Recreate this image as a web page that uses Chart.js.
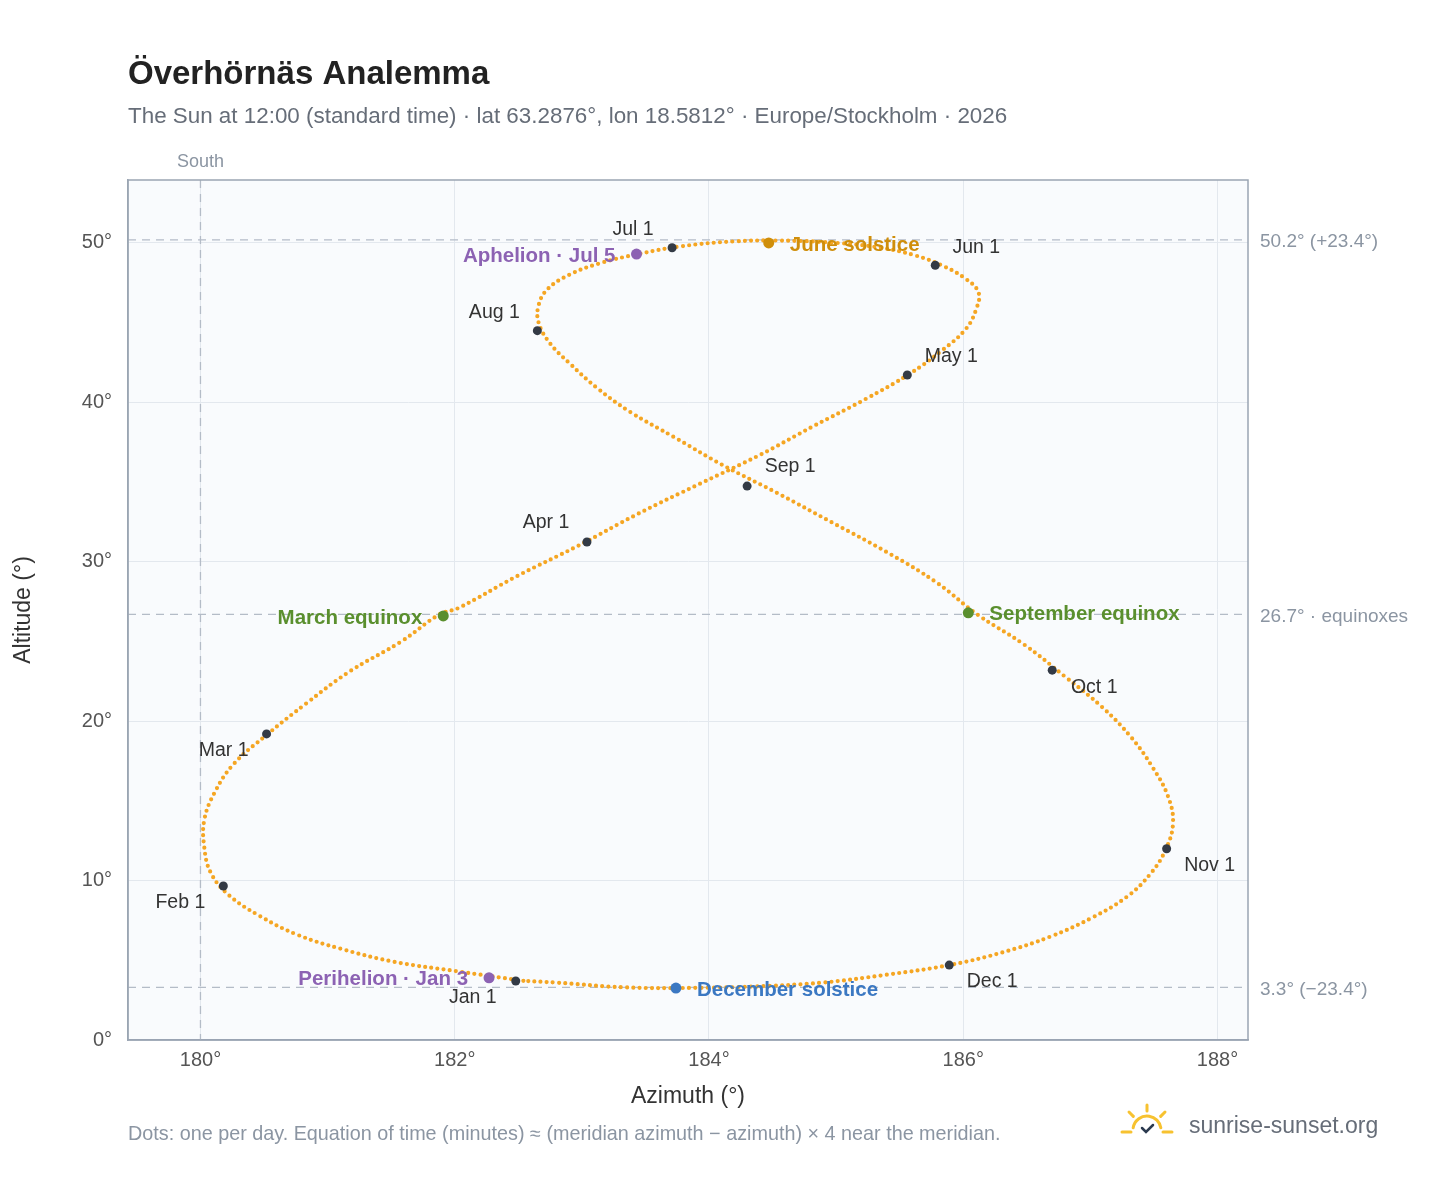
<!DOCTYPE html>
<html><head><meta charset="utf-8">
<script src="https://cdn.jsdelivr.net/npm/chart.js@4"></script>
<style>html,body{margin:0;padding:0;background:#fff}#wrap{position:relative;width:1448px;height:1188px}</style>
</head><body><div id="wrap"><canvas id="c" width="1448" height="1188"></canvas></div>
<script>
// Sun path, roughly every 5 days, Jan 1 .. Dec 31 (azimuth °, altitude °)
const pathAz = [182.54,182.02,181.52,181.11,180.76,180.46,180.22,180.08,180.03,180.03,180.11,180.26,180.53,180.83,181.17,181.58,181.88,182.03,182.49,182.97,183.44,183.93,184.40,184.82,185.23,185.58,185.84,186.02,186.10,186.12,186.01,185.83,185.63,185.35,185.01,184.56,184.20,183.79,183.44,183.13,182.90,182.73,182.66,182.66,182.75,182.91,183.12,183.38,183.73,184.10,184.54,184.96,185.40,185.79,186.11,186.48,186.80,187.09,187.32,187.49,187.61,187.65,187.59,187.47,187.29,187.02,186.69,186.31,185.89,185.40,184.89,184.35,183.89,183.34,182.80,182.54];
const pathAlt = [3.71,4.31,4.91,5.71,6.61,7.81,9.11,10.51,12.1,13.8,15.5,17.3,19.2,21.1,23.1,25.0,26.7,27.1,29.1,31.0,33.0,34.9,36.7,38.5,40.2,41.8,43.3,44.6,45.8,46.9,47.8,48.6,49.2,49.7,50.0,50.15,50.1,49.8,49.3,48.7,48.0,47.1,46.1,45.0,43.7,42.4,40.9,39.4,37.8,36.1,34.3,32.5,30.6,28.7,26.7,24.8,22.8,20.9,19.0,17.1,15.3,13.6,11.9,10.4,9.0,7.7,6.5,5.5,4.7,4.1,3.6,3.36,3.27,3.3,3.6,3.71];
// Month markers
const monthLabels = ["Jan 1","Feb 1","Mar 1","Apr 1","May 1","Jun 1","Jul 1","Aug 1","Sep 1","Oct 1","Nov 1","Dec 1"];
const monthAz = [182.48,180.18,180.52,183.04,185.56,185.78,183.71,182.65,184.30,186.70,187.60,185.89];
const monthAlt = [3.70,9.66,19.2,31.24,41.72,48.6,49.7,44.5,34.75,23.2,12.0,4.7];
// Events
const eventLabels = ["June solstice","December solstice","March equinox","September equinox","Perihelion · Jan 3","Aphelion · Jul 5"];
const eventAz = [184.47,183.74,181.91,186.04,182.27,183.43];
const eventAlt = [50.0,3.26,26.6,26.8,3.9,49.3];
// Reference lines
const refAlt = [50.2,26.7,3.3];
const refLabels = ["50.2° (+23.4°)","26.7° · equinoxes","3.3° (−23.4°)"];
const southAz = 180;
const xTicks = [180,182,184,186,188];
const yTicks = [0,10,20,30,40,50];

const monthOff = [[-43,17],[-43,17],[-43,17],[-41,-19],[44,-18],[41,-18],[-39,-18],[-43,-18],[43,-19],[42,17],[43,17],[43,17]];
const evColor = ["#cf8e0b","#3b78c2","#5a8f2e","#5a8f2e","#8c62b3","#8c62b3"];
const evSide = [1,1,-1,1,-1,-1];
const F = '"Liberation Sans", Arial, sans-serif';

const deco = {
  id:'deco',
  beforeDraw(ch){
    const {ctx,chartArea:a}=ch;
    ctx.save();ctx.fillStyle='#f9fbfd';ctx.fillRect(a.left,a.top,a.right-a.left,a.bottom-a.top);ctx.restore();
  },
  beforeDatasetsDraw(ch){
    const {ctx,chartArea:a,scales:{x,y}}=ch;
    ctx.save();
    ctx.strokeStyle='#b4bcc7';ctx.lineWidth=1.3;ctx.setLineDash([8,6]);
    refAlt.forEach((v,i)=>{const py=y.getPixelForValue(v);ctx.beginPath();ctx.moveTo(a.left,py);ctx.lineTo(a.right,py);ctx.stroke();
      ctx.fillStyle='#8b95a2';ctx.font='19px '+F;ctx.textBaseline='middle';ctx.fillText(refLabels[i],a.right+12,py+2);});
    const sx=x.getPixelForValue(southAz);
    ctx.beginPath();ctx.moveTo(sx,a.top);ctx.lineTo(sx,a.bottom);ctx.stroke();
    ctx.setLineDash([]);
    ctx.fillStyle='#8b95a2';ctx.font='18px '+F;ctx.textAlign='center';ctx.textBaseline='alphabetic';
    ctx.fillText('South',sx,167);
    ctx.strokeStyle='#9aa5b3';ctx.lineWidth=1.5;ctx.strokeRect(a.left,a.top,a.right-a.left,a.bottom-a.top);
    ctx.restore();
  },
  afterDraw(ch){
    const {ctx,scales:{x,y}}=ch;
    ctx.save();
    ctx.textBaseline='middle';
    monthLabels.forEach((l,i)=>{const px=x.getPixelForValue(monthAz[i]),py=y.getPixelForValue(monthAlt[i]);
      ctx.fillStyle='#333a45';ctx.beginPath();ctx.arc(px,py,4.5,0,7);ctx.fill();
      ctx.font='19.5px '+F;ctx.textAlign='center';ctx.fillStyle='#333';ctx.fillText(l,px+monthOff[i][0],py+monthOff[i][1]);});
    eventLabels.forEach((l,i)=>{const px=x.getPixelForValue(eventAz[i]),py=y.getPixelForValue(eventAlt[i]);
      ctx.fillStyle=evColor[i];ctx.beginPath();ctx.arc(px,py,5.5,0,7);ctx.fill();
      ctx.font='bold 20.5px '+F;ctx.textAlign=evSide[i]>0?'left':'right';
      ctx.fillText(l,px+evSide[i]*21,py+2);});
    ctx.textAlign='left';ctx.textBaseline='alphabetic';
    ctx.fillStyle='#222';ctx.font='bold 33px '+F;ctx.fillText('Överhörnäs Analemma',128,84);
    ctx.fillStyle='#666d78';ctx.font='22.4px '+F;ctx.fillText('The Sun at 12:00 (standard time) · lat 63.2876°, lon 18.5812° · Europe/Stockholm · 2026',128,123);
    ctx.fillStyle='#8b95a2';ctx.font='19.8px '+F;ctx.fillText('Dots: one per day. Equation of time (minutes) ≈ (meridian azimuth − azimuth) × 4 near the meridian.',128,1140);
    ctx.fillStyle='#666d78';ctx.font='23px '+F;ctx.fillText('sunrise-sunset.org',1189,1133);
    const cx=1147,cy=1130;ctx.strokeStyle='#f7c230';ctx.lineWidth=3;ctx.lineCap='round';
    ctx.beginPath();ctx.arc(cx,cy,14,Math.PI*1.05,Math.PI*1.95);ctx.stroke();
    [[-0.72,-0.72],[0.72,-0.72],[0,-1]].forEach(d=>{ctx.beginPath();ctx.moveTo(cx+d[0]*19,cy+d[1]*19);ctx.lineTo(cx+d[0]*25,cy+d[1]*25);ctx.stroke();});
    ctx.beginPath();ctx.moveTo(1122,cy+2);ctx.lineTo(1131,cy+2);ctx.moveTo(1163,cy+2);ctx.lineTo(1172,cy+2);ctx.stroke();
    ctx.strokeStyle='#2b3a4f';ctx.lineWidth=2.5;ctx.beginPath();ctx.moveTo(cx-5,cy-2);ctx.lineTo(cx-1,cy+2);ctx.lineTo(cx+6,cy-5);ctx.stroke();
    ctx.restore();
  }
};

new Chart(document.getElementById('c'),{
  type:'scatter',
  data:{datasets:[{data:pathAz.map((v,i)=>({x:v,y:pathAlt[i]})),showLine:true,borderColor:'#f5a623',borderWidth:4.2,borderDash:[0,6.2],borderCapStyle:'round',tension:0.4,pointRadius:0}]},
  options:{
    responsive:false,animation:false,
    layout:{padding:{left:6,right:200,top:180,bottom:74}},
    plugins:{legend:{display:false},tooltip:{enabled:false}},
    scales:{
      x:{type:'linear',min:179.43,max:188.24,afterFit(s){s.height=74;},
        afterBuildTicks(s){s.ticks=xTicks.map(v=>({value:v}));},
        ticks:{callback:v=>v+'°',color:'#555',font:{size:20,family:F},padding:8},
        grid:{color:'#e3e8ee',drawTicks:false},border:{color:'#9aa5b3',width:1.5},
        title:{display:true,text:'Azimuth (°)',color:'#333',font:{size:23,family:F}}},
      y:{type:'linear',min:0,max:53.95,afterFit(s){s.width=122;},
        afterBuildTicks(s){s.ticks=yTicks.map(v=>({value:v}));},
        ticks:{callback:v=>v+'°',color:'#555',font:{size:20,family:F},padding:16},
        grid:{color:'#e3e8ee',drawTicks:false},border:{color:'#9aa5b3',width:1.5},
        title:{display:true,text:'Altitude (°)',color:'#333',font:{size:23,family:F}}}
    }
  },
  plugins:[deco]
});
</script></body></html>
